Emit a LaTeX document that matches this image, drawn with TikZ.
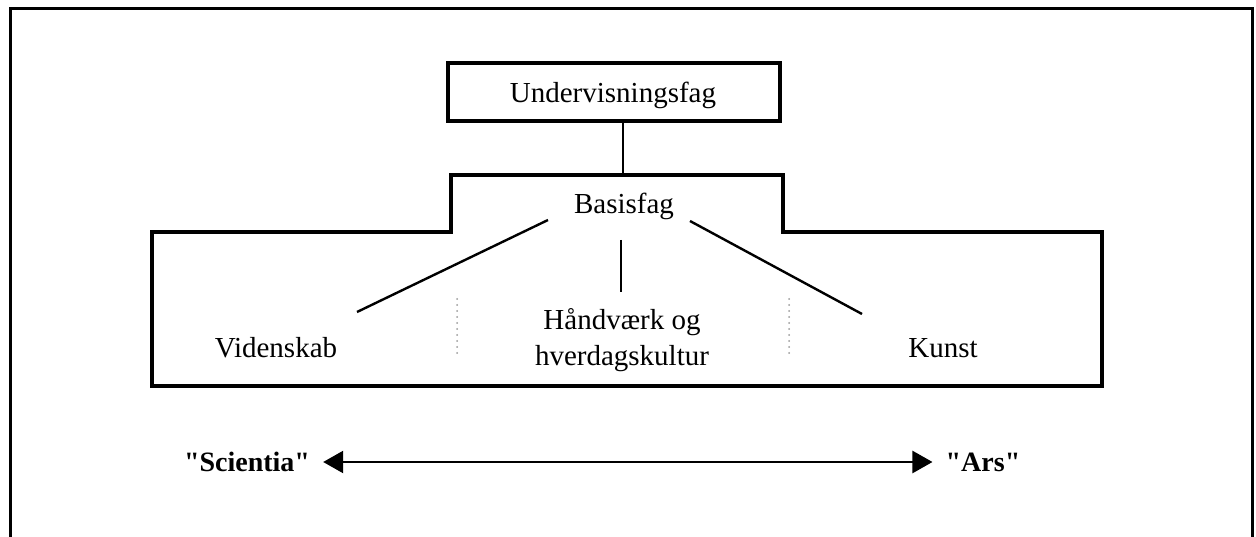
\documentclass[tikz,border=0pt]{standalone}
\usepackage{fontspec}
\setmainfont{Liberation Serif}
\newfontfamily\qfont{Liberation Serif}
\usetikzlibrary{arrows.meta}
\begin{document}
\begin{tikzpicture}[x=1pt,y=-1pt,
  lbl/.style={font=\fontsize{29}{36}\selectfont, inner sep=0pt, align=center},
  qlbl/.style={font=\qfont\bfseries\fontsize{28}{34}\selectfont, inner sep=0pt},
  boxline/.style={line width=3.2pt, line join=miter},
  conn/.style={line width=2.4pt},
  dots/.style={line width=2pt, dash pattern=on 0pt off 6pt, line cap=round, gray!80}]
\useasboundingbox (0,0) rectangle (1256,537);
% outer frame
\draw[line width=3pt] (10,545) -- (10,9) -- (1252,9) -- (1252,545);
% top box
\node[draw, line width=3.2pt, minimum width=332pt, minimum height=58pt, inner sep=0pt] (und) at (614,92) {};
\node[lbl] (undt) at (613,95) {Undervisningsfag};
% stepped main box
\draw[boxline] (152,386) -- (152,232) -- (451,232) -- (451,175) -- (783,175) -- (783,232) -- (1102,232) -- (1102,386) -- cycle;
\coordinate (btop) at (623,175);
\draw[conn] (und.south -| btop) -- (btop);
\node[lbl] (bas) at (624,206) {Basisfag};
% child labels
\node[lbl] (vid) at (276,348) {Videnskab};
\node[lbl] (haa) at (622,340) {Håndværk og\\hverdagskultur};
\node[lbl] (kun) at (943,348) {Kunst};
% connectors
\coordinate (l1) at (548,220); \coordinate (l2) at (357,312);
\coordinate (c1) at (621,240); \coordinate (c2) at (621,292);
\coordinate (r1) at (690,221); \coordinate (r2) at (862,314);
\draw[conn] (l1) -- (l2);
\draw[conn] (c1) -- (c2);
\draw[conn] (r1) -- (r2);
% dotted separators
\coordinate (d1a) at (457,299); \coordinate (d1b) at (457,354);
\coordinate (d2a) at (789,299); \coordinate (d2b) at (789,354);
\draw[dots] (d1a) -- (d1b);
\draw[dots] (d2a) -- (d2b);
% bottom arrow
\node[qlbl] (sci) at (247,462) {"Scientia"};
\node[qlbl] (ars) at (983,462) {"Ars"};
\draw[line width=2.4pt, {Triangle[length=20pt,width=22pt]}-{Triangle[length=20pt,width=22pt]}] ([xshift=13pt]sci.east) -- ([xshift=-13pt]ars.west);
\end{tikzpicture}
\end{document}
